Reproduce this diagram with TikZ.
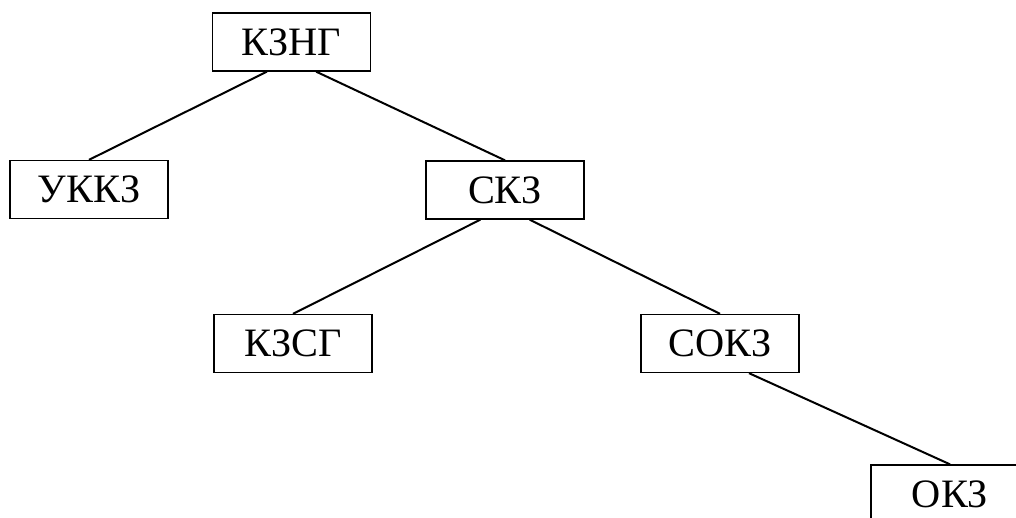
\documentclass[tikz,border=0pt]{standalone}
\usepackage{fontspec}
\setmainfont{Liberation Serif}
\usepackage{tikz}
\usetikzlibrary{positioning}
\newcommand{\boxwidth}{47.4pt}
\newcommand{\boxheight}{17.4pt}
\newcommand{\edgeshift}{7.4pt}
\tikzset{
  termbox/.style={draw, thin, minimum width=\boxwidth, minimum height=\boxheight, inner sep=0pt, font=\fontsize{12.1}{14}\selectfont},
  treeedge/.style={draw, line width=0.6pt}
}

\begin{document}
\begin{tikzpicture}[x=0.3pt, y=-0.3pt, every node/.style={termbox}]
	% The frame:
	\useasboundingbox (0,0) rectangle (1016,517);
	\clip (0,0) rectangle (1016,517);
	% Terms:
	\node (kzng) at (291.5,42) {КЗНГ};
	\node (ukkz) at (89,189.5) {УККЗ};
	\node (skz) at (505,190) {СКЗ};
	\node (kzsg) at (293,343.5) {КЗСГ};
	\node (sokz) at (720,343.5) {СОКЗ};
	\node (okz) at (950,494) {ОКЗ};
	% Edges:
	\draw[treeedge] ([xshift=-\edgeshift]kzng.south) -- (ukkz.north);
	\draw[treeedge] ([xshift=\edgeshift]kzng.south) -- (skz.north);
	\draw[treeedge] ([xshift=-\edgeshift]skz.south) -- (kzsg.north);
	\draw[treeedge] ([xshift=\edgeshift]skz.south) -- (sokz.north);
	\draw[treeedge] ([xshift=8.7pt]sokz.south) -- (okz.north);
\end{tikzpicture}
\end{document}
